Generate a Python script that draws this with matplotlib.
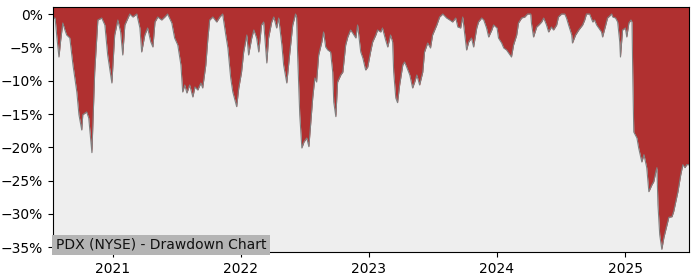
import pandas as pd
import matplotlib
matplotlib.use('Agg')
import matplotlib.pyplot as plt
import matplotlib.dates as mdates
from matplotlib.ticker import PercentFormatter

# drawdown values (in %)
dates = [
    "2020-07-14", "2020-07-20", "2020-07-25", "2020-07-31", "2020-08-05", "2020-08-11",
    "2020-08-17", "2020-08-22", "2020-08-31", "2020-09-09", "2020-09-20", "2020-09-26",
    "2020-10-04", "2020-10-07", "2020-10-18", "2020-10-24", "2020-11-02", "2020-11-10",
    "2020-11-19", "2020-11-30", "2020-12-09", "2020-12-17", "2020-12-29",
    "2021-01-06", "2021-01-15", "2021-01-23", "2021-01-29", "2021-02-04", "2021-02-18",
    "2021-02-27", "2021-03-10", "2021-03-19", "2021-03-24", "2021-04-02", "2021-04-10",
    "2021-04-19", "2021-04-25", "2021-05-01", "2021-05-09", "2021-05-20", "2021-05-29",
    "2021-06-06", "2021-06-18", "2021-06-26", "2021-07-05", "2021-07-14", "2021-07-19",
    "2021-07-25", "2021-07-31", "2021-08-08", "2021-08-17", "2021-08-23", "2021-08-31",
    "2021-09-09", "2021-09-14", "2021-09-23", "2021-09-29", "2021-10-04", "2021-10-13",
    "2021-10-24", "2021-11-02", "2021-11-10", "2021-11-19", "2021-11-25", "2021-12-03",
    "2021-12-09", "2021-12-20", "2021-12-26",
    "2022-01-03", "2022-01-09", "2022-01-18", "2022-01-23", "2022-02-01", "2022-02-07",
    "2022-02-15", "2022-02-21", "2022-03-01", "2022-03-07", "2022-03-16", "2022-03-21",
    "2022-03-30", "2022-04-05", "2022-04-13", "2022-04-19", "2022-04-28", "2022-05-03",
    "2022-05-12", "2022-05-18", "2022-05-20", "2022-05-29", "2022-06-06", "2022-06-09",
    "2022-06-12", "2022-06-18", "2022-06-24", "2022-06-30", "2022-07-08", "2022-07-14",
    "2022-07-19", "2022-07-25", "2022-07-31", "2022-08-05", "2022-08-11", "2022-08-20",
    "2022-08-25", "2022-08-31", "2022-09-06", "2022-09-14", "2022-09-20", "2022-09-23",
    "2022-09-29", "2022-10-04", "2022-10-13", "2022-10-19", "2022-10-27", "2022-11-02",
    "2022-11-10", "2022-11-16", "2022-11-25", "2022-11-30", "2022-12-09", "2022-12-15",
    "2022-12-23", "2022-12-29",
    "2023-01-06", "2023-01-12", "2023-01-21", "2023-01-26", "2023-02-04", "2023-02-09",
    "2023-02-18", "2023-02-24", "2023-03-04", "2023-03-10", "2023-03-13", "2023-03-19",
    "2023-03-24", "2023-03-30", "2023-04-08", "2023-04-13", "2023-04-19", "2023-04-28",
    "2023-05-06", "2023-05-12", "2023-05-18", "2023-05-26", "2023-06-04", "2023-06-09",
    "2023-06-18", "2023-06-26", "2023-07-02", "2023-07-14", "2023-07-22", "2023-07-31",
    "2023-08-11", "2023-08-20", "2023-08-28", "2023-09-06", "2023-09-12", "2023-09-20",
    "2023-09-26", "2023-10-01", "2023-10-07", "2023-10-13", "2023-10-21", "2023-10-27",
    "2023-11-05", "2023-11-10", "2023-11-19", "2023-11-25", "2023-12-03", "2023-12-09",
    "2023-12-18", "2023-12-23",
    "2024-01-02", "2024-01-06", "2024-01-15", "2024-01-21", "2024-01-29", "2024-02-04",
    "2024-02-12", "2024-02-18", "2024-02-27", "2024-03-03", "2024-03-12", "2024-03-21",
    "2024-03-29", "2024-04-07", "2024-04-09", "2024-04-15", "2024-04-24", "2024-04-30",
    "2024-05-08", "2024-05-14", "2024-05-22", "2024-05-28", "2024-06-05", "2024-06-11",
    "2024-06-20", "2024-06-25", "2024-07-04", "2024-07-13", "2024-07-18", "2024-07-24",
    "2024-08-02", "2024-08-04", "2024-08-13", "2024-08-22", "2024-09-02", "2024-09-08",
    "2024-09-13", "2024-09-22", "2024-10-01", "2024-10-06", "2024-10-12", "2024-10-18",
    "2024-10-26", "2024-10-29", "2024-11-07", "2024-11-12", "2024-11-24", "2024-11-27",
    "2024-12-05", "2024-12-11", "2024-12-17", "2024-12-19", "2024-12-25",
    "2025-01-02", "2025-01-06", "2025-01-12", "2025-01-18", "2025-01-21", "2025-01-23",
    "2025-01-26", "2025-02-04", "2025-02-09", "2025-02-18", "2025-02-24", "2025-03-04",
    "2025-03-10", "2025-03-19", "2025-03-24", "2025-03-30", "2025-04-02", "2025-04-05",
    "2025-04-10", "2025-04-16", "2025-04-22", "2025-05-01", "2025-05-06", "2025-05-15",
    "2025-05-20", "2025-05-26", "2025-06-01", "2025-06-09", "2025-06-15", "2025-06-21",
    "2025-06-26", "2025-07-02",
]
drawdown = [
    -0.6, -0.6, -3.45, -6.45, -3.9, -1.35,
    -2.4, -3.15, -3.6, -7.65, -11.7, -15.1,
    -17.4, -15.1, -14.7, -15.6, -20.8, -8.7,
    -0.9, -0.6, -1.65, -6.15, -10.35,
    -3.15, -0.9, -2.7, -6.15, -1.65, 0.0,
    -0.45, 0.0, -2.1, -5.7, -3.15, -2.1,
    -4.2, -4.95, -1.2, -0.45, -0.9, -0.45,
    0.0, -1.35, -3.6, -4.65, -7.65, -11.7,
    -10.65, -11.85, -10.65, -12.45, -10.95, -11.4,
    -10.35, -11.1, -7.65, -3.6, -0.9, -0.45,
    -1.2, -0.45, 0.0, -3.15, -5.1, -9.6,
    -11.7, -13.9, -11.1,
    -8.7, -5.7, -3.15, -6.15, -3.6, -2.4,
    -3.6, -5.7, -1.65, -1.2, -7.35, -3.6,
    -1.2, -0.45, -2.1, -0.6, -4.65, -7.65,
    -10.35, -7.2, -6.15, -1.65, 0.0, -0.45,
    -6.15, -15.1, -20.1, -19.2, -18.6, -19.9,
    -16.6, -12.6, -9.6, -10.2, -6.15, -4.2,
    -2.7, -4.95, -5.4, -5.7, -8.7, -13.2,
    -15.4, -10.2, -9.15, -8.7, -4.65, -3.45,
    -2.4, -2.85, -3.6, -1.65, -5.7, -6.6,
    -8.4, -7.95,
    -5.7, -4.2, -3.15, -2.4, -2.7, -2.1,
    -3.9, -4.95, -3.15, -4.2, -8.7, -12.6,
    -13.3, -10.65, -7.65, -7.2, -7.95, -9.15,
    -11.1, -10.2, -9.15, -10.65, -8.7, -5.7,
    -4.35, -5.1, -3.15, -1.65, -0.45, 0.0,
    -0.6, -0.9, -1.2, -0.6, -1.95, -2.1,
    -0.45, -2.7, -5.4, -4.2, -3.6, -4.95,
    -2.1, -1.2, -0.6, -0.9, -2.1, -3.45,
    -2.4, -1.65,
    -2.1, -3.6, -4.35, -5.1, -5.4, -5.85,
    -6.45, -4.65, -3.15, -1.35, -0.6, -0.45,
    0.0, 0.0, -1.35, -3.45, -1.95, -1.65,
    -1.2, -0.6, -1.65, -2.7, -1.95, -2.4,
    -1.65, -0.45, 0.0, 0.0, -0.6, -1.65,
    -3.15, -4.35, -3.15, -2.4, -1.65, -0.9,
    0.0, 0.0, -1.2, -0.9, -1.65, -2.1,
    -2.7, -3.45, -1.65, -0.6, 0.0, -0.45,
    -0.6, -1.2, -4.2, -6.45, -2.4,
    -2.1, -3.45, -1.35, -0.9, -1.2, -8.7,
    -17.7, -18.6, -20.1, -22.2, -21.1, -23.05,
    -26.65, -25.6, -25.15, -23.65, -23.05, -28.6,
    -33.1, -35.3, -33.5, -31.6, -30.5, -30.4,
    -29.6, -28.1, -26.65, -24.1, -22.6, -23.05,
    -22.6, -22.6,
]

dd = pd.Series(drawdown, index=pd.to_datetime(dates))

fig = plt.figure(figsize=(7, 2.8), dpi=100)
ax = fig.add_axes([0.0757, 0.1, 0.9083, 0.875])
ax.set_facecolor('#eeeeee')

top = 1.05
ax.fill_between(dd.index, dd.values, top, color='#b03030', linewidth=0)
ax.plot(dd.index, dd.values, color='#808080', linewidth=0.8)

ax.set_xlim(dd.index[0], dd.index[-1])
ax.set_ylim(-35.7, top)
ax.set_yticks([0, -5, -10, -15, -20, -25, -30, -35])
ax.yaxis.set_major_formatter(PercentFormatter(decimals=0))
ax.xaxis.set_major_locator(mdates.YearLocator())
ax.xaxis.set_major_formatter(mdates.DateFormatter('%Y'))

ax.text(0.004, 0.0, 'PDX (NYSE) - Drawdown Chart', transform=ax.transAxes,
        ha='left', va='bottom', fontsize=10, color='#111111',
        bbox=dict(facecolor='#b4b4b4', edgecolor='none', pad=2.5))

fig.savefig('out.png', dpi=100)
